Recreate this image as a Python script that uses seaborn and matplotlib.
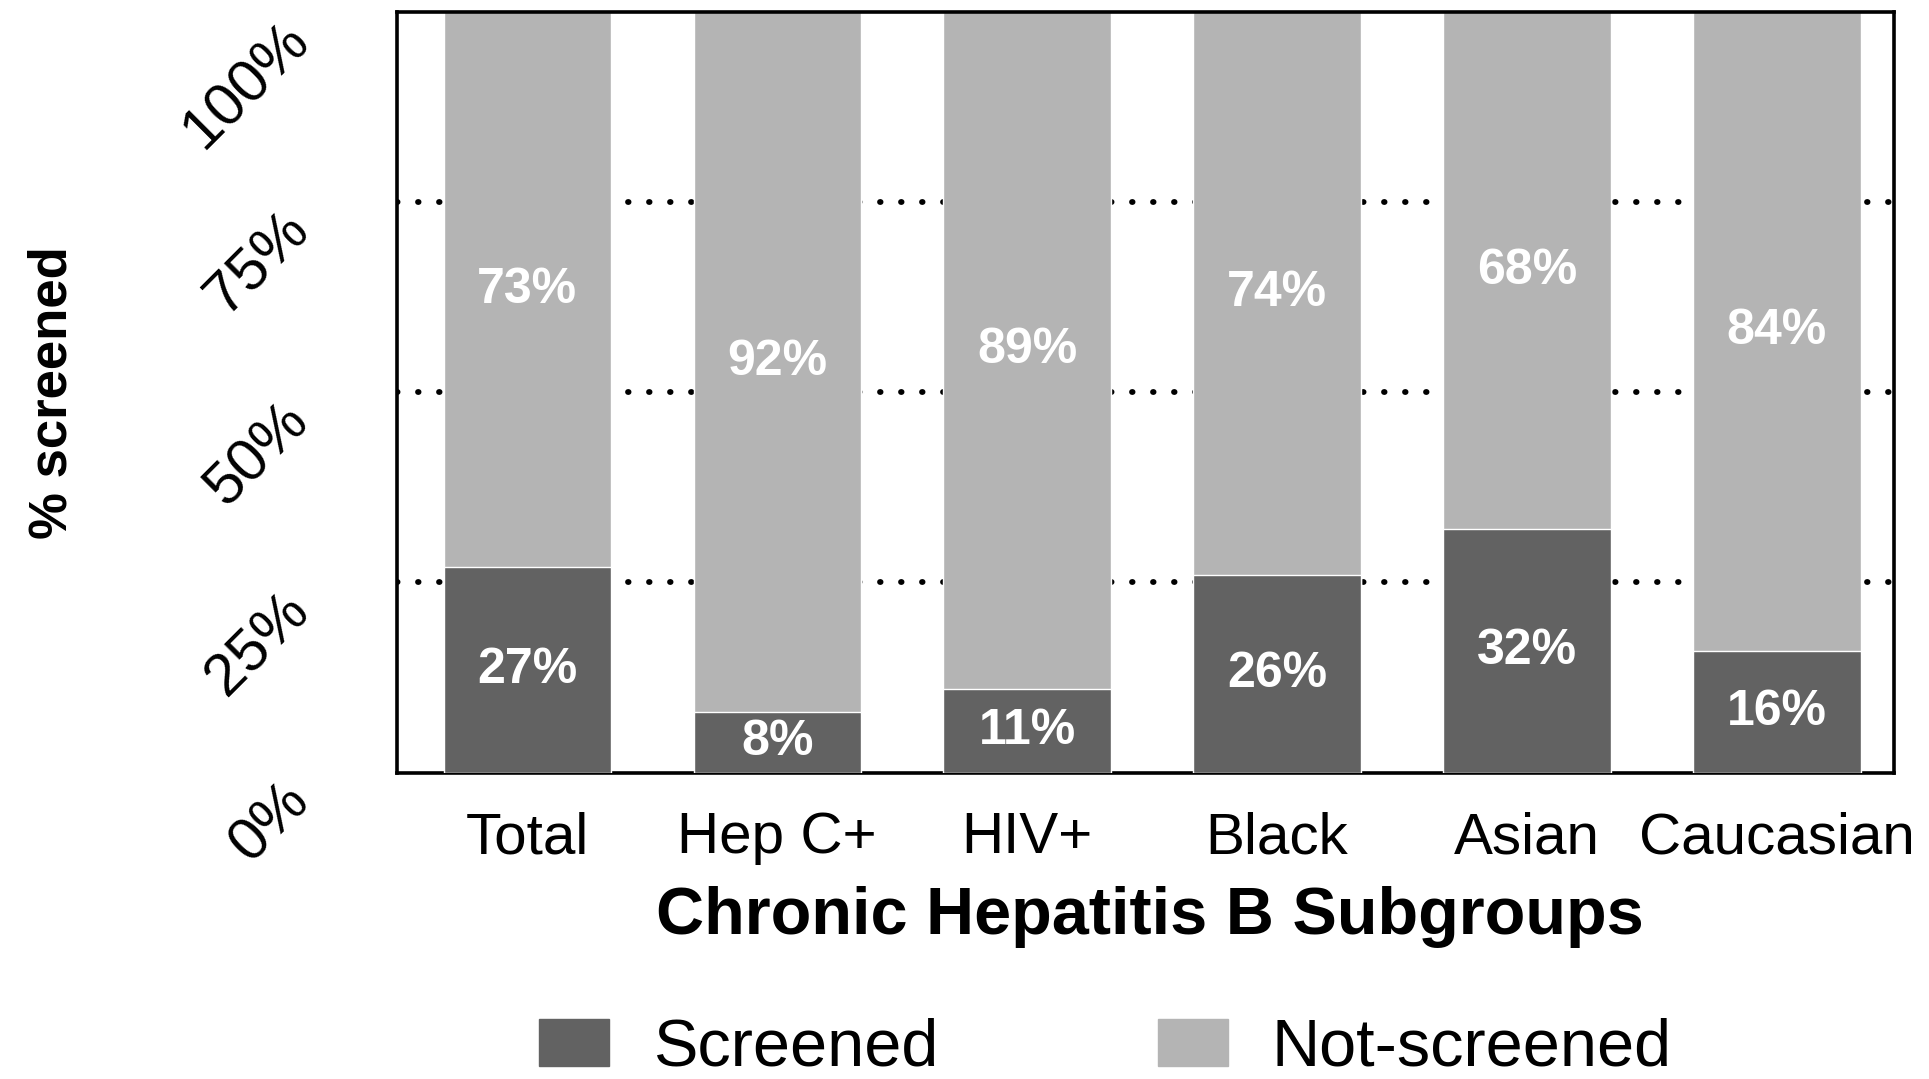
import seaborn as sns
import matplotlib.pyplot as plt
import pandas as pd
from matplotlib.patches import Patch

groups = ["Total", "Hep C+", "HIV+", "Black", "Asian", "Caucasian"]
screened = [27, 8, 11, 26, 32, 16]
not_screened = [73, 92, 89, 74, 68, 84]
yticks = [0, 25, 50, 75, 100]

dark = "#626262"
light = "#b4b4b4"

sns.set_style("white")
plt.rcParams["font.family"] = ["Liberation Sans", "DejaVu Sans"]
plt.rcParams["text.color"] = "black"
plt.rcParams["axes.labelcolor"] = "black"
plt.rcParams["xtick.color"] = "black"
plt.rcParams["ytick.color"] = "black"

df = pd.DataFrame({"group": groups, "screened": screened, "not_screened": not_screened})
df["total"] = df["screened"] + df["not_screened"]

fig = plt.figure(figsize=(19.29, 10.79), dpi=100)
ax = fig.add_axes([0.206, 0.284, 0.776, 0.705])

sns.barplot(data=df, x="group", y="total", color=light, width=0.67, saturation=1, ax=ax, zorder=2)
sns.barplot(data=df, x="group", y="screened", color=dark, width=0.67, saturation=1, ax=ax, zorder=3)

for y in yticks[1:-1]:
    ax.axhline(y, color="black", lw=4.2, ls=(0, (0.1, 3.5)), dash_capstyle="round", zorder=1)

# percentage labels in each segment
for i, (s, n) in enumerate(zip(screened, not_screened)):
    ax.text(i, s / 2, f"{s}%", color="white", fontsize=36, fontweight="bold",
            ha="center", va="center", zorder=4)
    ax.text(i, s + n / 2, f"{n}%", color="white", fontsize=36, fontweight="bold",
            ha="center", va="center", zorder=4)

ax.set_ylim(0, 100)
ax.set_xlim(-0.52, 5.47)
ax.set_yticks(yticks)
ax.set_yticklabels([f"{t}%" for t in yticks], rotation=45, rotation_mode="anchor",
                   ha="right", va="top", fontsize=43)
ax.tick_params(axis="y", length=0, pad=84)
ax.tick_params(axis="x", length=0, pad=28, labelsize=42)

for sp in ax.spines.values():
    sp.set_visible(True)
    sp.set_color("black")
    sp.set_linewidth(2.6)

ax.set_ylabel("% screened", fontsize=38, fontweight="bold")
ax.yaxis.set_label_coords(-0.214, 0.5)
ax.set_xlabel("Chronic Hepatitis B Subgroups", fontsize=48, fontweight="bold")
ax.xaxis.set_label_coords(0.503, -0.19)
ax.xaxis.label.set_va("center")

handles = [Patch(color=dark, label="Screened"), Patch(color=light, label="Not-screened")]
fig.legend(handles=handles, loc="center", bbox_to_anchor=(0.573, 0.028), ncol=2,
           frameon=False, fontsize=48, handlelength=1.05, handleheight=0.7,
           handletextpad=0.65, columnspacing=3.3)

plt.savefig("out.png", dpi=100)
plt.close()
